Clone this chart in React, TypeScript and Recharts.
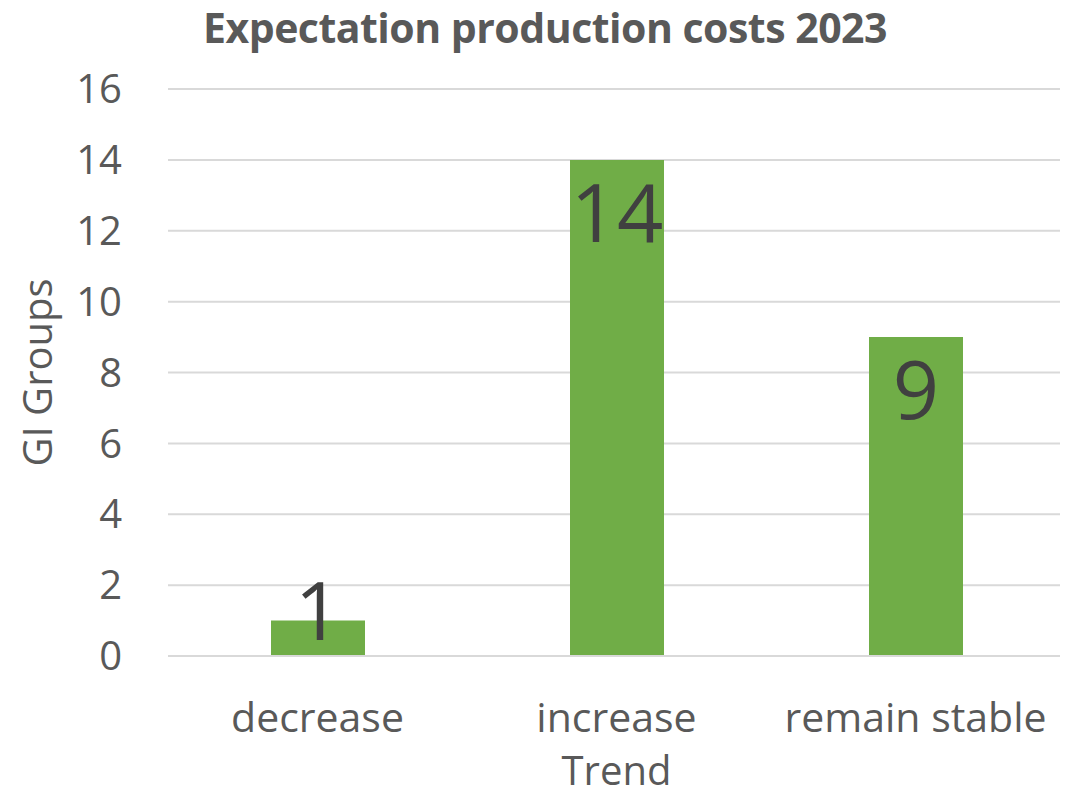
import { BarChart, Bar, XAxis, YAxis, CartesianGrid, LabelList } from "recharts";

const trends = ["decrease", "increase", "remain stable"];
const groups = [1, 14, 9];
const yTicks = [0, 2, 4, 6, 8, 10, 12, 14, 16];

const data = trends.map((trend, i) => ({ trend, groups: groups[i] }));

const font = "'Open Sans', sans-serif";
const grey = "#595959";

function ValueLabel(props: any) {
  const { x, y, width, height, value } = props;
  // Excel keeps the label inside the bar end, but lifts it for short bars
  const baseline = Math.min(y + 82, y + height - 16);
  return (
    <text
      x={x + width / 2}
      y={baseline}
      textAnchor="middle"
      fontSize={81}
      fontFamily={font}
      fill="#404040"
    >
      {value}
    </text>
  );
}

export default function App() {
  return (
    <div style={{ position: "relative", width: 1060, height: 790, fontFamily: font }}>
      <div
        style={{
          position: "absolute",
          top: 0,
          left: 0,
          width: 1074,
          textAlign: "center",
          fontSize: 41,
          fontWeight: 700,
          color: grey,
          lineHeight: "38px",
          letterSpacing: -0.5,
        }}
      >
        Expectation production costs 2023
      </div>
      <BarChart
        width={1060}
        height={790}
        data={data}
        margin={{ top: 81, right: 3, left: 0, bottom: 0 }}
      >
        <CartesianGrid vertical={false} stroke="#d9d9d9" strokeWidth={2} />
        <XAxis
          dataKey="trend"
          height={142}
          tickLine={false}
          tickSize={0}
          tickMargin={47}
          axisLine={{ stroke: "#d9d9d9", strokeWidth: 2 }}
          tick={{ fontSize: 41, fill: grey, fontFamily: font }}
          label={{
            content: () => (
              <text x={608.5} y={777} textAnchor="middle" fontSize={40} fill={grey} fontFamily={font}>
                Trend
              </text>
            ),
          }}
        />
        <YAxis
          width={160}
          domain={[0, 16]}
          ticks={yTicks}
          interval={0}
          axisLine={false}
          tickLine={false}
          tickSize={0}
          tickMargin={46}
          tick={{ fontSize: 40, fill: grey, fontFamily: font }}
          label={{
            content: () => (
              <text
                x={44}
                y={364.5}
                transform="rotate(-90, 44, 364.5)"
                textAnchor="middle"
                fontSize={40}
                fill={grey}
                fontFamily={font}
              >
                GI Groups
              </text>
            ),
          }}
        />
        <Bar dataKey="groups" fill="#70AD47" barSize={94} isAnimationActive={false}>
          <LabelList dataKey="groups" content={ValueLabel} />
        </Bar>
      </BarChart>
    </div>
  );
}
